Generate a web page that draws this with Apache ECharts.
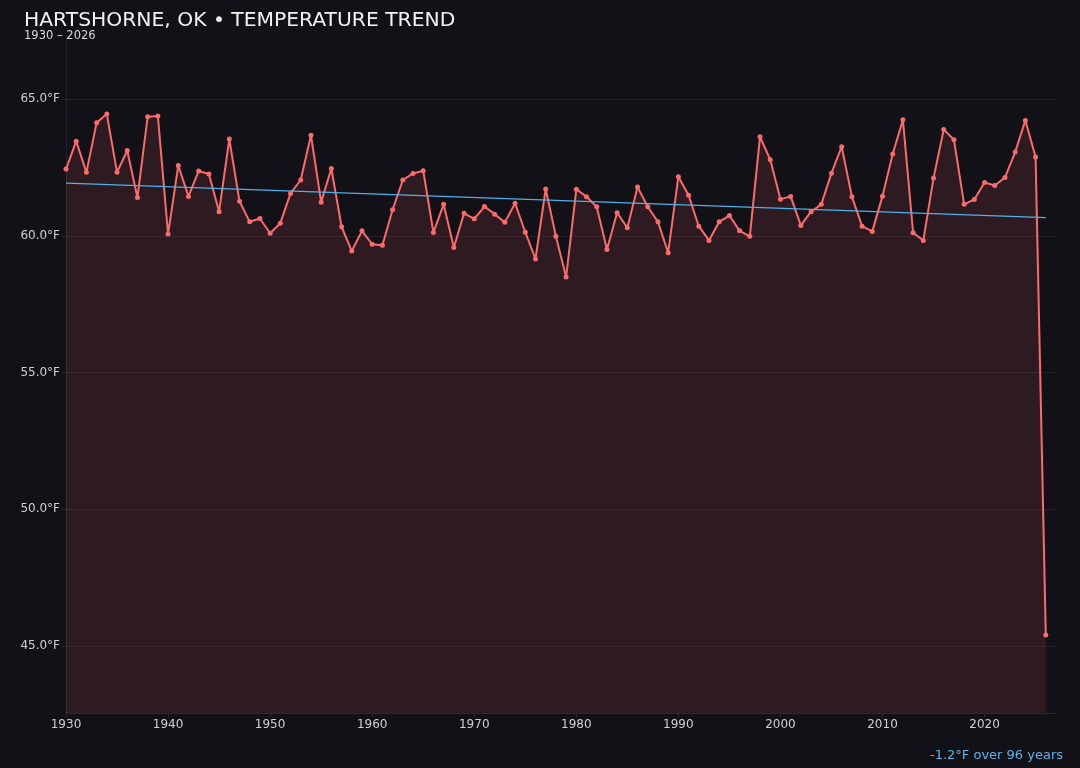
<!DOCTYPE html>
<html>
<head>
<meta charset="utf-8">
<script src="https://cdn.jsdelivr.net/npm/echarts@6/dist/echarts.min.js"></script>
<style>
  html, body { margin: 0; padding: 0; background: #121117; }
  #chart { width: 1080px; height: 768px; }
</style>
</head>
<body>
<div id="chart"></div>
<script>
// annual mean temperature, Hartshorne OK
var startYear = 1930;
var temps = [
  62.44, 63.46, 62.32, 64.13, 64.45, 62.32, 63.12, 61.40, 64.35, 64.38, // 1930s
  60.06, 62.57, 61.44, 62.37, 62.26, 60.88, 63.54, 61.26, 60.51, 60.63, // 1940s
  60.09, 60.46, 61.55, 62.04, 63.68, 61.23, 62.46, 60.33, 59.44, 60.18, // 1950s
  59.69, 59.65, 60.95, 62.04, 62.28, 62.38, 60.12, 61.15, 59.57, 60.82, // 1960s
  60.62, 61.07, 60.79, 60.49, 61.19, 60.13, 59.15, 61.71, 59.98, 58.49, // 1970s
  61.70, 61.43, 61.06, 59.50, 60.84, 60.29, 61.78, 61.06, 60.51, 59.38, // 1980s
  62.16, 61.48, 60.35, 59.83, 60.51, 60.74, 60.18, 59.98, 63.62, 62.78, // 1990s
  61.34, 61.44, 60.38, 60.88, 61.15, 62.29, 63.26, 61.43, 60.35, 60.16, // 2000s
  61.45, 62.99, 64.24, 60.11, 59.83, 62.11, 63.89, 63.51, 61.15, 61.33, // 2010s
  61.95, 61.84, 62.13, 63.06, 64.22, 62.88, 45.40                       // 2020s
];
var trendText = "-1.2°F over 96 years";

var points = temps.map(function (t, i) { return [startYear + i, t]; });

// least squares trend
var n = points.length, sx = 0, sy = 0, sxy = 0, sxx = 0;
points.forEach(function (p) { sx += p[0]; sy += p[1]; sxy += p[0] * p[1]; sxx += p[0] * p[0]; });
var slope = (n * sxy - sx * sy) / (n * sxx - sx * sx);
var icept = (sy - slope * sx) / n;
var firstYear = points[0][0], lastYear = points[n - 1][0];
var trend = [[firstYear, icept + slope * firstYear], [lastYear, icept + slope * lastYear]];

var lo = Math.min.apply(null, temps), hi = Math.max.apply(null, temps);
var pad = (hi - lo) * 0.15;

var chart = echarts.init(document.getElementById("chart"));
var font = "DejaVu Sans";

var option = {
  backgroundColor: "#121117",
  animation: false,
  title: [
    {
      text: "HARTSHORNE, OK • TEMPERATURE TREND",
      left: 24, top: 11, padding: 0,
      textStyle: { color: "#f2f2f2", fontSize: 20.3, fontWeight: "normal", fontFamily: font }
    },
    {
      text: firstYear + " – " + lastYear,
      left: 24, top: 30, padding: 0,
      textStyle: { color: "#d8d8d8", fontSize: 11.5, fontWeight: "normal", fontFamily: font }
    },
    {
      text: trendText,
      right: 17, top: 749, padding: 0,
      textStyle: { color: "#5bb4ea", fontSize: 13, fontWeight: "normal", fontFamily: font }
    }
  ],
  grid: { left: 66, right: 24, top: 36, bottom: 55 },
  xAxis: {
    type: "value",
    min: 1930, max: 2027, interval: 10,
    axisLine: { lineStyle: { color: "#2a2a32" } },
    axisTick: { show: true, length: 4, lineStyle: { color: "#2a2a32" } },
    axisLabel: {
      color: "#d0d0d0", fontSize: 12, fontFamily: font, margin: 6,
      showMaxLabel: false,
      formatter: function (v) { return v % 10 === 0 ? String(v) : ""; }
    },
    splitLine: { show: false }
  },
  yAxis: {
    type: "value",
    min: lo - pad, max: hi + pad,
    axisLine: { show: true, lineStyle: { color: "#24232b" } },
    axisTick: { show: true, length: 4, lineStyle: { color: "#2a2a32" } },
    axisLabel: {
      color: "#d0d0d0", fontSize: 12, fontFamily: font, margin: 6,
      showMinLabel: false, showMaxLabel: false,
      formatter: function (v) { return v.toFixed(1) + "°F"; }
    },
    splitLine: { showMinLine: false, showMaxLine: false, lineStyle: { color: "#211f27", width: 1 } }
  },
  series: [
    {
      name: "temp",
      type: "line",
      data: points,
      symbol: "circle",
      symbolSize: 5,
      itemStyle: { color: "#fa6b6b" },
      lineStyle: { color: "#fa6b6b", width: 2 },
      areaStyle: { color: "rgba(250,107,107,0.18)", origin: "start" },
      z: 3
    },
    {
      name: "trend",
      type: "line",
      data: trend,
      symbol: "none",
      lineStyle: { color: "#4fb0ea", width: 1.2 },
      z: 4
    }
  ]
};
chart.setOption(option);
</script>
</body>
</html>
